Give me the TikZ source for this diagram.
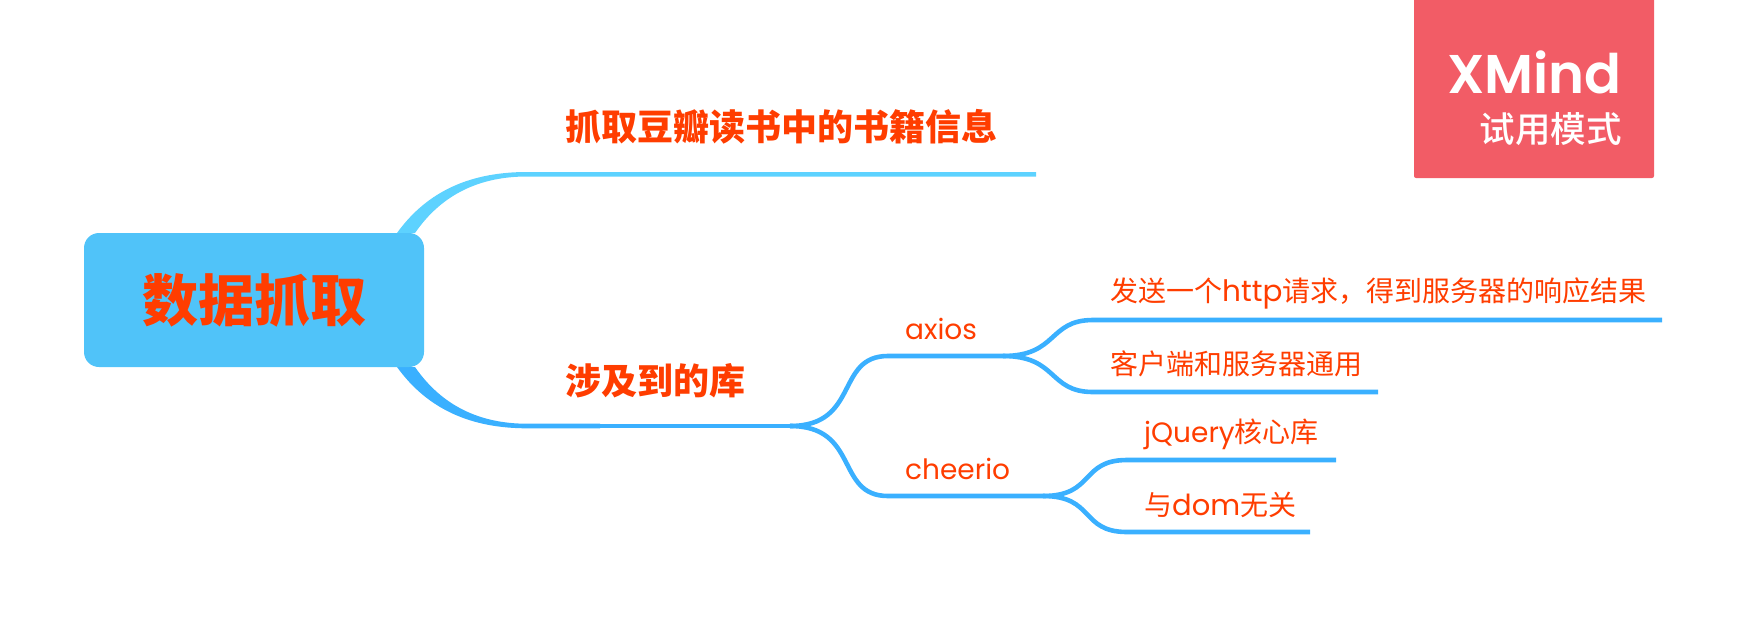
\documentclass[tikz,border=0pt]{standalone}
\usepackage{fontspec}
\setmainfont{Poppins}
\newfontfamily\cjk{Noto Sans CJK SC}
\newfontfamily\cjkm{Noto Sans CJK SC Medium}
\newfontfamily\cjkb{Noto Sans CJK SC Black}
\newfontfamily\logofont{Poppins SemiBold}
\definecolor{rootblue}{HTML}{50C3F9}
\definecolor{lineblue}{HTML}{3AB0FF}
\definecolor{topblue}{HTML}{5DD2FF}
\definecolor{txtred}{HTML}{FF3D00}
\definecolor{badge}{HTML}{F25C66}
\tikzset{
 x=1pt,y=-1pt,
 lab/.style={anchor=west,inner sep=0pt,text=txtred,font=\fontsize{28}{28}\selectfont},
 mainlab/.style={anchor=west,inner sep=0pt,text=txtred,font=\fontsize{36}{36}\selectfont\cjkb},
 wire/.style={draw=lineblue,line width=4.6pt,line cap=butt},
}
\begin{document}
\begin{tikzpicture}
\useasboundingbox (0,0) rectangle (1747,619);
% coordinates
\coordinate (t0) at (527,174.2);
\coordinate (t1) at (1036,174.2);
\coordinate (b0) at (527,426);
\coordinate (j0) at (790,426);
\coordinate (ax0) at (888,356);
\coordinate (ax1) at (1003,356);
\coordinate (ch0) at (888,496);
\coordinate (ch1) at (1043,496);
\coordinate (a10) at (1093,320);
\coordinate (a11) at (1662,320);
\coordinate (a20) at (1093,392);
\coordinate (a21) at (1378,392);
\coordinate (c10) at (1127,460);
\coordinate (c11) at (1336,460);
\coordinate (c20) at (1127,532);
\coordinate (c21) at (1310,532);
% tapered main branches
\fill[topblue] (397,233) .. controls (428,190) and (472,172) .. (527,172) -- (1036,172) -- (1036,176.5) -- (527,176.5) .. controls (480,176.5) and (442,194) .. (415,233) -- cycle;
\fill[lineblue] (397,367) .. controls (428,410) and (472,428.3) .. (527,428.3) -- (600,428.3) -- (600,423.7) -- (527,423.7) .. controls (480,423.7) and (442,406) .. (415,367) -- cycle;
\draw[wire] (b0) -- (j0);
\draw[wire] (j0) .. controls (860,426) and (835,356) .. (ax0) -- (ax1);
\draw[wire] (j0) .. controls (860,426) and (835,496) .. (ch0) -- (ch1);
\draw[wire] (ax1) .. controls (1058,356) and (1048,320) .. (a10) -- (a11);
\draw[wire] (ax1) .. controls (1058,356) and (1048,392) .. (a20) -- (a21);
\draw[wire] (ch1) .. controls (1095,496) and (1080,460) .. (c10) -- (c11);
\draw[wire] (ch1) .. controls (1095,496) and (1080,532) .. (c20) -- (c21);
% root
\node[fill=rootblue,rounded corners=15pt,minimum width=340pt,minimum height=134pt,inner sep=0pt,text=txtred,font=\fontsize{56}{56}\selectfont\cjkb] (root) at (254,300) {数据抓取};
% labels
\node[mainlab] (top) at (565,127) {抓取豆瓣读书中的书籍信息};
\node[mainlab] (libs) at (565,381) {涉及到的库};
\node[lab] (axios) at (905,329) {axios};
\node[lab] (cheerio) at (905,469) {cheerio};
\node[lab] (a1) at (1110,293) {{\cjk 发送一个}{\fontsize{29.5}{28}\selectfont http}{\cjk 请求，得到服务器的响应结果}};
\node[lab] (a2) at (1110,364) {\cjk 客户端和服务器通用};
\node[lab] (c1) at (1144,434) {jQuery{\cjk 核心库}};
\node[lab] (c2) at (1144,505) {{\cjk 与}{\fontsize{29}{28}\selectfont dom}{\cjk 无关}};
% badge
\fill[badge] (1414,0) -- (1654,0) -- (1654,176) arc[start angle=0,end angle=90,radius=2] -- (1416,178) arc[start angle=90,end angle=180,radius=2] -- cycle;
\node[anchor=base east,inner sep=0pt,text=white,font=\fontsize{54.5}{56}\selectfont\logofont] (xm) at (1622,93) {XMind};
\node[anchor=east,inner sep=0pt,text=white,font=\fontsize{35.5}{36}\selectfont\cjkm] (trial) at (1622,129) {试用模式};
\end{tikzpicture}
\end{document}
